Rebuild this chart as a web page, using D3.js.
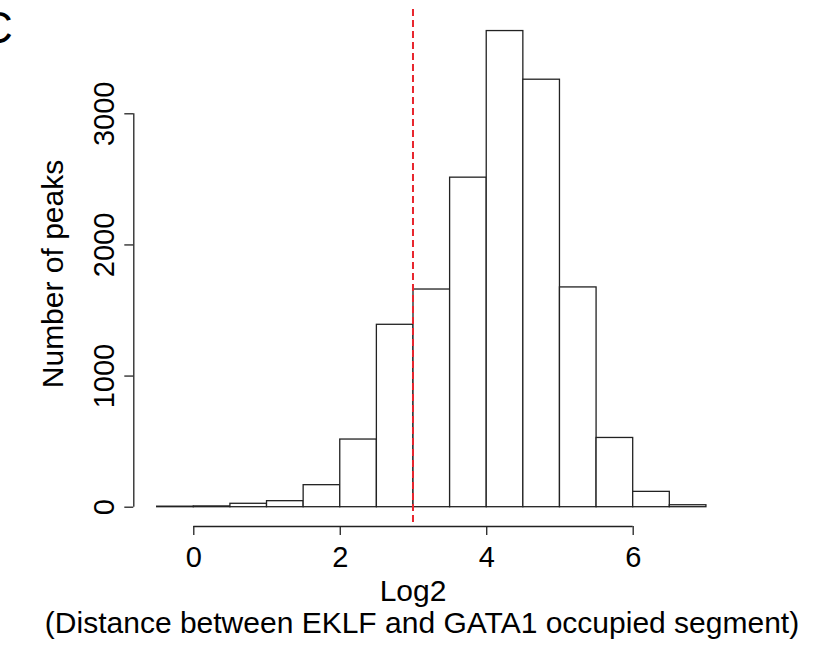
<!DOCTYPE html>
<html>
<head>
<meta charset="utf-8">
<script src="https://cdn.jsdelivr.net/npm/d3@7"></script>
<style>
  html, body { margin: 0; padding: 0; background: #fff; }
  svg { display: block; }
  text { font-family: "Liberation Sans", Arial, Helvetica, sans-serif; fill: #000; }
</style>
</head>
<body>
<svg id="chart" width="818" height="649"></svg>
<script>
// Histogram bins (left edges, width 0.5) and counts
const binStarts = [-0.5, 0, 0.5, 1, 1.5, 2, 2.5, 3, 3.5, 4, 4.5, 5, 5.5, 6, 6.5];
const binWidth = 0.5;
const counts = [4, 6, 26, 46, 168, 516, 1391, 1660, 2513, 3631, 3260, 1676, 528, 117, 15];
const xTicks = [0, 2, 4, 6];
const yTicks = [0, 1000, 2000, 3000];
const cutoff = 3;
const xLabel1 = "Log2";
const xLabel2 = "(Distance between EKLF and GATA1 occupied segment)";
const yLabel = "Number of peaks";
const panelLabel = "C";

const svg = d3.select("#chart");
const x = d3.scaleLinear().domain([-0.8, 7.3]).range([134.7, 727.9]);
const y = d3.scaleLinear().domain([0, 3000]).range([506.7, 113.3]);

// bars
svg.append("g").selectAll("rect")
  .data(binStarts.map((s, i) => ({ s, c: counts[i] })))
  .join("rect")
  .attr("x", d => x(d.s))
  .attr("width", d => x(d.s + binWidth) - x(d.s))
  .attr("y", d => y(d.c))
  .attr("height", d => y(0) - y(d.c))
  .attr("fill", "#fff")
  .attr("stroke", "#222")
  .attr("stroke-width", 1.3);

// cutoff line
svg.append("line")
  .attr("x1", x(cutoff)).attr("x2", x(cutoff))
  .attr("y1", 9).attr("y2", 526)
  .attr("stroke", "#e8262e")
  .attr("stroke-width", 2)
  .attr("stroke-dasharray", "7,4");

// x axis
const xAxis = d3.axisBottom(x).tickValues(xTicks).tickSize(9).tickPadding(6).tickFormat(d3.format("d"));
const gx = svg.append("g").attr("transform", "translate(0,526)").call(xAxis);
gx.select(".domain").attr("d", `M${x(0)},0.5H${x(6)}`).attr("stroke", "#222").attr("stroke-width", 1.3);
gx.selectAll(".tick line").attr("stroke", "#222").attr("stroke-width", 1.3);
gx.selectAll(".tick text").attr("font-size", 29).attr("font-family", "Liberation Sans, Arial, sans-serif")
  .attr("dy", null).attr("y", 41);

// y axis
const yAxis = d3.axisLeft(y).tickValues(yTicks).tickSize(9).tickFormat(d3.format("d"));
const gy = svg.append("g").attr("transform", "translate(133.3,0)").call(yAxis);
gy.select(".domain").attr("d", `M0.5,${y(0)}V${y(3000)}`).attr("stroke", "#222").attr("stroke-width", 1.3);
gy.selectAll(".tick line").attr("stroke", "#222").attr("stroke-width", 1.3);
gy.selectAll(".tick text")
  .attr("font-size", 29).attr("font-family", "Liberation Sans, Arial, sans-serif")
  .attr("x", null).attr("dy", null)
  .attr("text-anchor", "middle")
  .attr("transform", "translate(-19,0) rotate(-90)");

// labels
svg.append("text").attr("x", 413).attr("y", 601).attr("text-anchor", "middle")
  .attr("font-size", 30).text(xLabel1);
svg.append("text").attr("x", 422).attr("y", 633).attr("text-anchor", "middle")
  .attr("font-size", 30).text(xLabel2);
svg.append("text").attr("transform", "translate(63,274) rotate(-90)").attr("text-anchor", "middle")
  .attr("font-size", 30).text(yLabel);
svg.append("text").attr("x", -19).attr("y", 43).attr("font-size", 44).text(panelLabel);
</script>
</body>
</html>
